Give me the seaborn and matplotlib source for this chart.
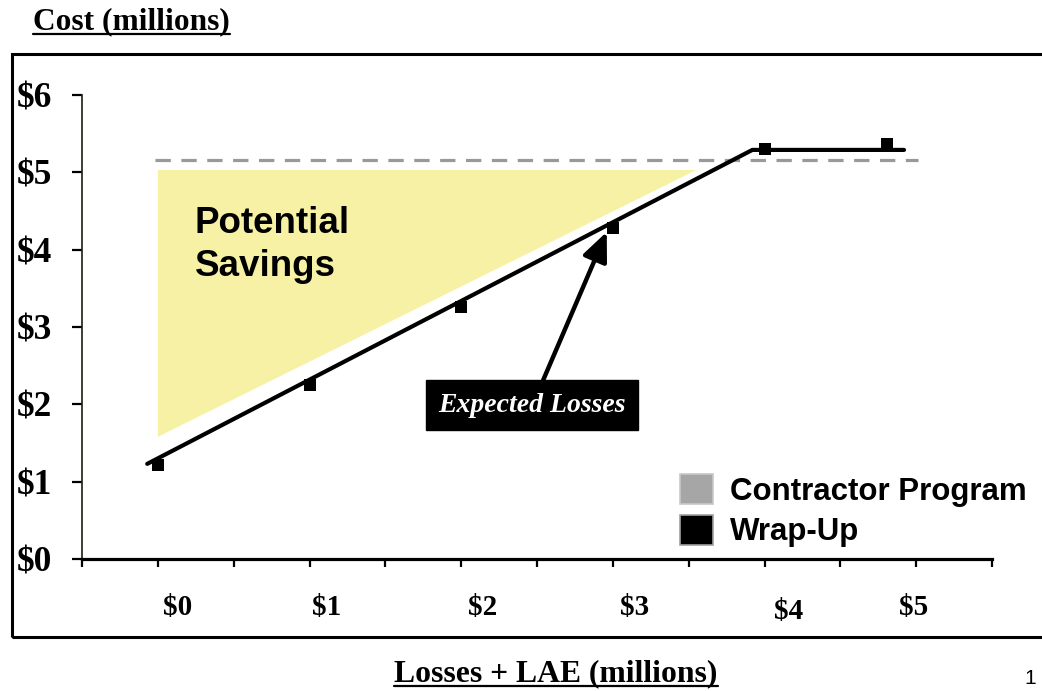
import matplotlib
matplotlib.use("Agg")
import matplotlib.pyplot as plt
import seaborn as sns
import pandas as pd
from matplotlib.patches import Patch, Rectangle
from matplotlib.lines import Line2D
import matplotlib.transforms as mtransforms

# ---- data (millions of dollars) ----
wrapup_line_x = [-0.07, 3.92, 4.92]
wrapup_line_y = [1.23, 5.29, 5.29]
wrapup_pts_x = [0, 1, 2, 3, 4, 4.81]
wrapup_pts_y = [1.22, 2.25, 3.26, 4.28, 5.30, 5.37]
contractor_x = [-0.02, 5.01]
contractor_y = [5.16, 5.16]
savings_x = [0, 3.55, 0]
savings_y = [5.03, 5.03, 1.58]
expected_loss_x = 2.96
expected_loss_y = 4.23

y_ticks = [0, 1, 2, 3, 4, 5, 6]
y_labels = ["$0", "$1", "$2", "$3", "$4", "$5", "$6"]
x_labels = ["$0", "$1", "$2", "$3", "$4", "$5"]
x_label_pos = [0.13, 1.11, 2.14, 3.14, 4.16, 4.98]
x_label_drop = [0, 0, 0, 0, 4, 0]   # px, extra downward shift per label

SERIF = "Liberation Serif"
SANS = "Liberation Sans"

sns.set_style("white")
plt.rcParams["font.family"] = [SANS, "DejaVu Sans"]
plt.rcParams.update({"text.color": "black", "axes.labelcolor": "black",
                     "xtick.color": "black", "ytick.color": "black"})

W, H = 1042, 691
fig = plt.figure(figsize=(W / 100, H / 100), dpi=100)
ax = fig.add_axes([82 / W, 1 - 559 / H, 910 / W, 464 / H])
ax.set_facecolor("white")

# savings wedge
ax.fill(savings_x, savings_y, color="#F6F1A4", lw=0, zorder=1)

# contractor program (dashed)
cdf = pd.DataFrame({"x": contractor_x, "y": contractor_y})
sns.lineplot(data=cdf, x="x", y="y", ax=ax, color="#999999", lw=2.3,
             sort=False, zorder=2)
ax.lines[-1].set_dashes((4.8, 3.3))

# wrap-up cost line
ldf = pd.DataFrame({"x": wrapup_line_x, "y": wrapup_line_y})
sns.lineplot(data=ldf, x="x", y="y", ax=ax, color="black", lw=3.0,
             sort=False, zorder=3)
pdf = pd.DataFrame({"x": wrapup_pts_x, "y": wrapup_pts_y})
sns.scatterplot(data=pdf, x="x", y="y", ax=ax, marker="s", s=68,
                color="black", edgecolor="black", linewidth=0, zorder=4)

ax.set_xlim(-0.5, 5.5)
ax.set_ylim(0, 6)
ax.set_xlabel("")
ax.set_ylabel("")

# axes styling
for side in ("top", "right"):
    ax.spines[side].set_visible(False)
ax.spines["left"].set_color("#1c1c10")
ax.spines["left"].set_linewidth(1.2)
ax.spines["bottom"].set_color("black")
ax.spines["bottom"].set_linewidth(2.3)

ax.set_yticks(y_ticks)
ax.set_yticklabels(y_labels, fontfamily=SERIF, fontweight="bold",
                   fontsize=25.5)
ax.tick_params(axis="y", direction="out", length=7, width=1.6, pad=14.5,
               colors="black", left=True)
ax.set_xticks([i * 0.5 - 0.5 for i in range(13)])
ax.set_xticklabels([])
ax.tick_params(axis="x", direction="out", length=6, width=1.6, bottom=True,
               colors="black")

xtrans = mtransforms.blended_transform_factory(ax.transData, ax.transAxes)
for lab, xp, dy in zip(x_labels, x_label_pos, x_label_drop):
    ax.text(xp, -0.105 - dy / 464, lab, transform=xtrans, ha="center",
            va="center", fontfamily=SERIF, fontweight="bold", fontsize=21)

# potential savings label
ax.text(0.245, 4.57, "Potential\nSavings", ha="left", va="top",
        fontfamily=SANS, fontweight="bold", fontsize=26.5, linespacing=1.32,
        zorder=5)

# expected losses call-out
ax.annotate("Expected Losses", xy=(expected_loss_x, expected_loss_y),
            xytext=(2.47, 1.99), ha="center", va="center",
            fontfamily=SERIF, fontweight="bold", fontstyle="italic",
            fontsize=20, color="white", zorder=6,
            bbox=dict(boxstyle="square,pad=0.44", fc="black", ec="black"),
            arrowprops=dict(arrowstyle="-|>,head_length=0.8,head_width=0.35",
                            color="black", lw=3.2, mutation_scale=22,
                            shrinkA=0, shrinkB=0))

# legend
handles = [Patch(facecolor="#A6A6A6", edgecolor="#C8C8C8", lw=1.2),
           Patch(facecolor="black", edgecolor="#A0A0A0", lw=1.2)]
fig.legend(handles, ["Contractor Program", "Wrap-Up"],
           loc="upper left", bbox_to_anchor=(680 / W, 1 - 474 / H),
           frameon=False, borderpad=0, borderaxespad=0,
           prop=dict(family=SANS, weight="bold", size=22.5),
           handlelength=1.05, handleheight=1.1, handletextpad=0.55,
           labelspacing=0.26)

# outer frame
fig.patches.append(Rectangle((12 / W, 1 - 637 / H), 1040 / W, 583 / H,
                             transform=fig.transFigure, fill=False,
                             ec="black", lw=2.2, zorder=0))

# titles (underlined)
t1 = fig.text(33 / W, 1 - 29 / H, "Cost (millions)", ha="left",
              va="baseline", fontfamily=SERIF, fontweight="bold",
              fontsize=22.6)
t2 = fig.text(556 / W, 1 - 681 / H, "Losses + LAE (millions)",
              ha="center", va="baseline", fontfamily=SERIF,
              fontweight="bold", fontsize=22.8)
fig.text(1036 / W, 1 - 678 / H, "1", ha="right", va="center",
         fontfamily=SANS, fontsize=15)

fig.canvas.draw()
renderer = fig.canvas.get_renderer()
for t, base in ((t1, 29), (t2, 681)):
    bb = t.get_window_extent(renderer)
    yu = (H - base - 4.5) / H
    fig.add_artist(Line2D([bb.x0 / W, bb.x1 / W], [yu, yu],
                          transform=fig.transFigure, color="black", lw=1.6))

fig.savefig("out.png", dpi=100, facecolor="white")
